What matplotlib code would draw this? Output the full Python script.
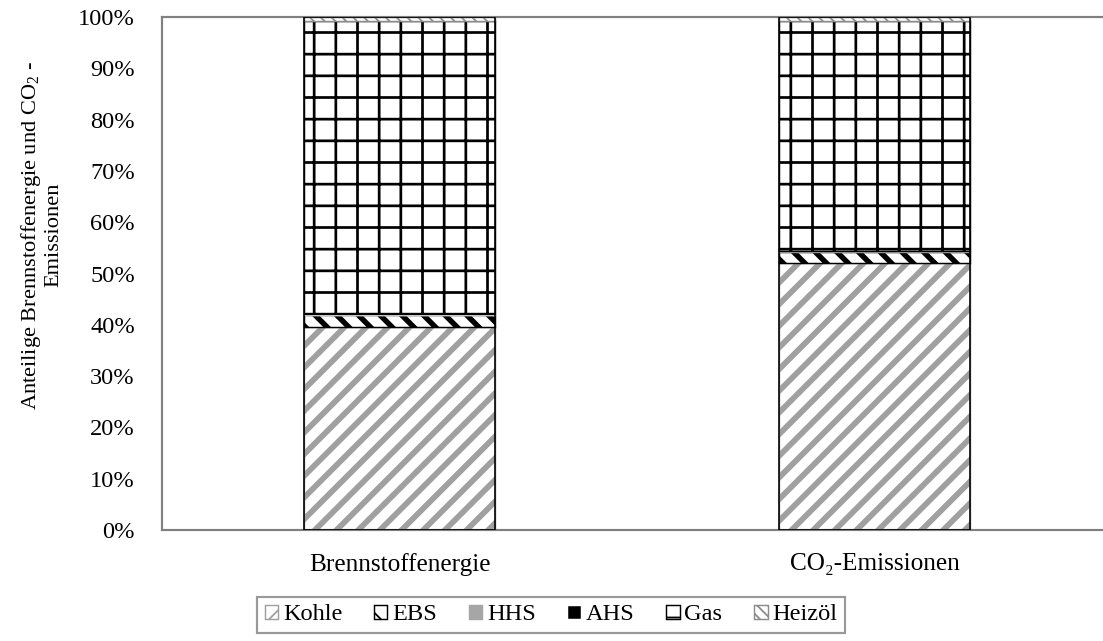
import matplotlib
matplotlib.use("Agg")
import matplotlib.pyplot as plt
import numpy as np

# Daten (Anteile in %)
categories = ["Brennstoffenergie", "CO₂-Emissionen"]
series = ["Kohle", "EBS", "HHS", "AHS", "Gas", "Heizöl"]
kohle = [39.6, 52.0]
ebs = [2.3, 2.2]
hhs = [0.1, 0.1]
ahs = [0.1, 0.1]
gas = [57.1, 44.9]
heizoel = [0.8, 0.7]
yticks = [0, 10, 20, 30, 40, 50, 60, 70, 80, 90, 100]

values = [kohle, ebs, hhs, ahs, gas, heizoel]

# Stil je Reihe: (Füllfarbe, Schraffur, Schraffurfarbe, Schraffurbreite)
styles = [
    ("white", "//", "#a0a0a0", 3.2),
    ("white", "\\\\", "black", 3.0),
    ("#a6a6a6", None, "#a6a6a6", 1.0),
    ("black", ".", "white", 1.0),
    ("white", "+", "black", 1.5),
    ("white", "\\\\\\\\", "#8c8c8c", 1.0),
]

plt.rcParams["font.family"] = ["Liberation Serif", "DejaVu Serif"]
plt.rcParams["mathtext.fontset"] = "custom"
plt.rcParams["mathtext.rm"] = "Liberation Serif"
plt.rcParams["mathtext.it"] = "Liberation Serif:italic"

DPI = 130
fig = plt.figure(figsize=(1103 / DPI, 641 / DPI), dpi=DPI)
ax = fig.add_axes([162 / 1103, 111 / 641, 950 / 1103, 513 / 641])

x = np.arange(len(categories))
width = 0.402
bottom = np.zeros(len(categories))
handles = []
for name, vals, (fc, hatch, hc, hlw) in zip(series, values, styles):
    plt.rcParams["hatch.linewidth"] = hlw
    bars = ax.bar(x, vals, width, bottom=bottom, color=fc, edgecolor=hc,
                  linewidth=0.8, hatch=hatch, label=name, zorder=2)
    handles.append(bars)
    bottom += np.array(vals)

# schwarzer Rahmen um die Säulen
ax.bar(x, bottom, width, fill=False, edgecolor="black", linewidth=0.9, zorder=3)

ax.set_xlim(-0.5, 1.5)
ax.set_ylim(0, 100)
ax.set_yticks(yticks)
ax.set_yticklabels([f"{v}%" for v in yticks])
ax.set_xticks(x)
ax.set_xticklabels(categories)
ax.tick_params(axis="both", length=0, labelsize=13.5, colors="black")
ax.tick_params(axis="x", labelsize=14)
ax.tick_params(axis="y", pad=15)
ax.tick_params(axis="x", pad=13)

for side in ["left", "bottom", "top"]:
    ax.spines[side].set_color("#808080")
    ax.spines[side].set_linewidth(1.2)
ax.spines["right"].set_visible(False)

ax.set_ylabel("Anteilige Brennstoffenergie und CO$_2$ -\nEmissionen",
              fontsize=12.4, linespacing=1.05)
ax.yaxis.set_label_coords(-0.104, 0.575)

leg = fig.legend(handles=handles, labels=series, loc="center",
                 bbox_to_anchor=(551 / 1103, 1 - 615 / 641), ncol=6,
                 fontsize=13.5, frameon=True, fancybox=False,
                 handlelength=0.55, handleheight=0.55, handletextpad=0.2,
                 columnspacing=1.3, borderpad=0.3)
leg.get_frame().set_edgecolor("#808080")
leg.get_frame().set_linewidth(1.2)

fig.savefig("out.png", dpi=DPI)
